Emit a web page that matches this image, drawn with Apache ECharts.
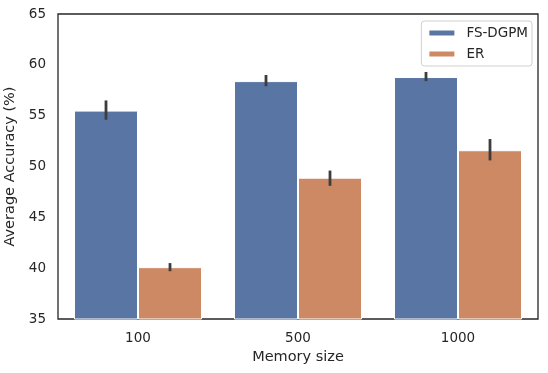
<!DOCTYPE html>
<html>
<head>
<meta charset="utf-8">
<script src="https://cdn.jsdelivr.net/npm/echarts@6/dist/echarts.min.js"></script>
<style>
  html, body { margin: 0; padding: 0; background: #fff; }
  #chart { width: 548px; height: 373px; }
</style>
</head>
<body>
<div id="chart"></div>
<script>
  var categories = ['100', '500', '1000'];
  var fsdgpm = [55.5, 58.4, 58.8];
  var er = [40.1, 48.9, 51.6];
  // confidence interval ends [low, high]
  var fsdgpmErr = [[54.6, 56.5], [57.9, 59.0], [58.4, 59.3]];
  var erErr = [[39.7, 40.5], [48.1, 49.6], [50.6, 52.7]];

  var BLUE = '#5975a4';
  var ORANGE = '#cc8963';
  var INK = '#262626';

  var errData = [];
  fsdgpmErr.forEach(function (e, i) { errData.push([i, e[0], e[1], 0]); });
  erErr.forEach(function (e, i) { errData.push([i, e[0], e[1], 1]); });

  function renderErr(params, api) {
    var ci = api.value(0);
    var lo = api.coord([ci, api.value(1)]);
    var hi = api.coord([ci, api.value(2)]);
    var bw = api.size([1, 0])[0];
    var dx = (api.value(3) === 0 ? -0.2 : 0.2) * bw;
    return {
      type: 'line',
      shape: { x1: lo[0] + dx, y1: lo[1], x2: hi[0] + dx, y2: hi[1] },
      style: { stroke: '#3d3d3d', lineWidth: 2.8 }
    };
  }

  var chart = echarts.init(document.getElementById('chart'), null, { renderer: 'canvas' });
  chart.setOption({
    animation: false,
    textStyle: { fontFamily: 'DejaVu Sans' },
    grid: {
      left: 58, right: 10, top: 14, bottom: 54,
      outerBoundsMode: 'none',
      show: true, borderColor: INK, borderWidth: 1.3, backgroundColor: '#fff'
    },
    legend: {
      right: 16, top: 21,
      orient: 'vertical',
      itemWidth: 27, itemHeight: 7, itemGap: 5,
      padding: [4, 4, 4, 6],
      borderColor: '#d0d0d0', borderWidth: 1, borderRadius: 3,
      backgroundColor: 'rgba(255,255,255,0.8)',
      textStyle: { fontSize: 13.5, lineHeight: 16, color: INK, padding: [0, 0, 0, 6] },
      data: [
        { name: 'FS-DGPM', icon: 'rect' },
        { name: 'ER', icon: 'rect' }
      ]
    },
    xAxis: {
      type: 'category',
      data: categories,
      name: 'Memory size',
      nameLocation: 'middle',
      nameGap: 30,
      nameTextStyle: { fontSize: 14.5, color: INK },
      axisLine: { show: false },
      axisTick: { show: false },
      axisLabel: { fontSize: 13.5, color: INK, margin: 12 },
      splitLine: { show: false }
    },
    yAxis: {
      type: 'value',
      min: 35, max: 65, interval: 5,
      name: 'Average Accuracy (%)',
      nameLocation: 'middle',
      nameGap: 34,
      nameTextStyle: { fontSize: 14.5, color: INK },
      axisLine: { show: false },
      axisTick: { show: false },
      axisLabel: { fontSize: 13.5, color: INK, margin: 12 },
      splitLine: { show: false }
    },
    series: [
      {
        name: 'FS-DGPM', type: 'bar', data: fsdgpm,
        barWidth: '40%', barGap: '0%',
        itemStyle: { color: BLUE, borderColor: '#ffffff', borderWidth: 1 }
      },
      {
        name: 'ER', type: 'bar', data: er,
        barWidth: '40%', barGap: '0%',
        itemStyle: { color: ORANGE, borderColor: '#ffffff', borderWidth: 1 }
      },
      {
        type: 'custom', renderItem: renderErr, data: errData,
        z: 10, silent: true
      }
    ]
  });
</script>
</body>
</html>
